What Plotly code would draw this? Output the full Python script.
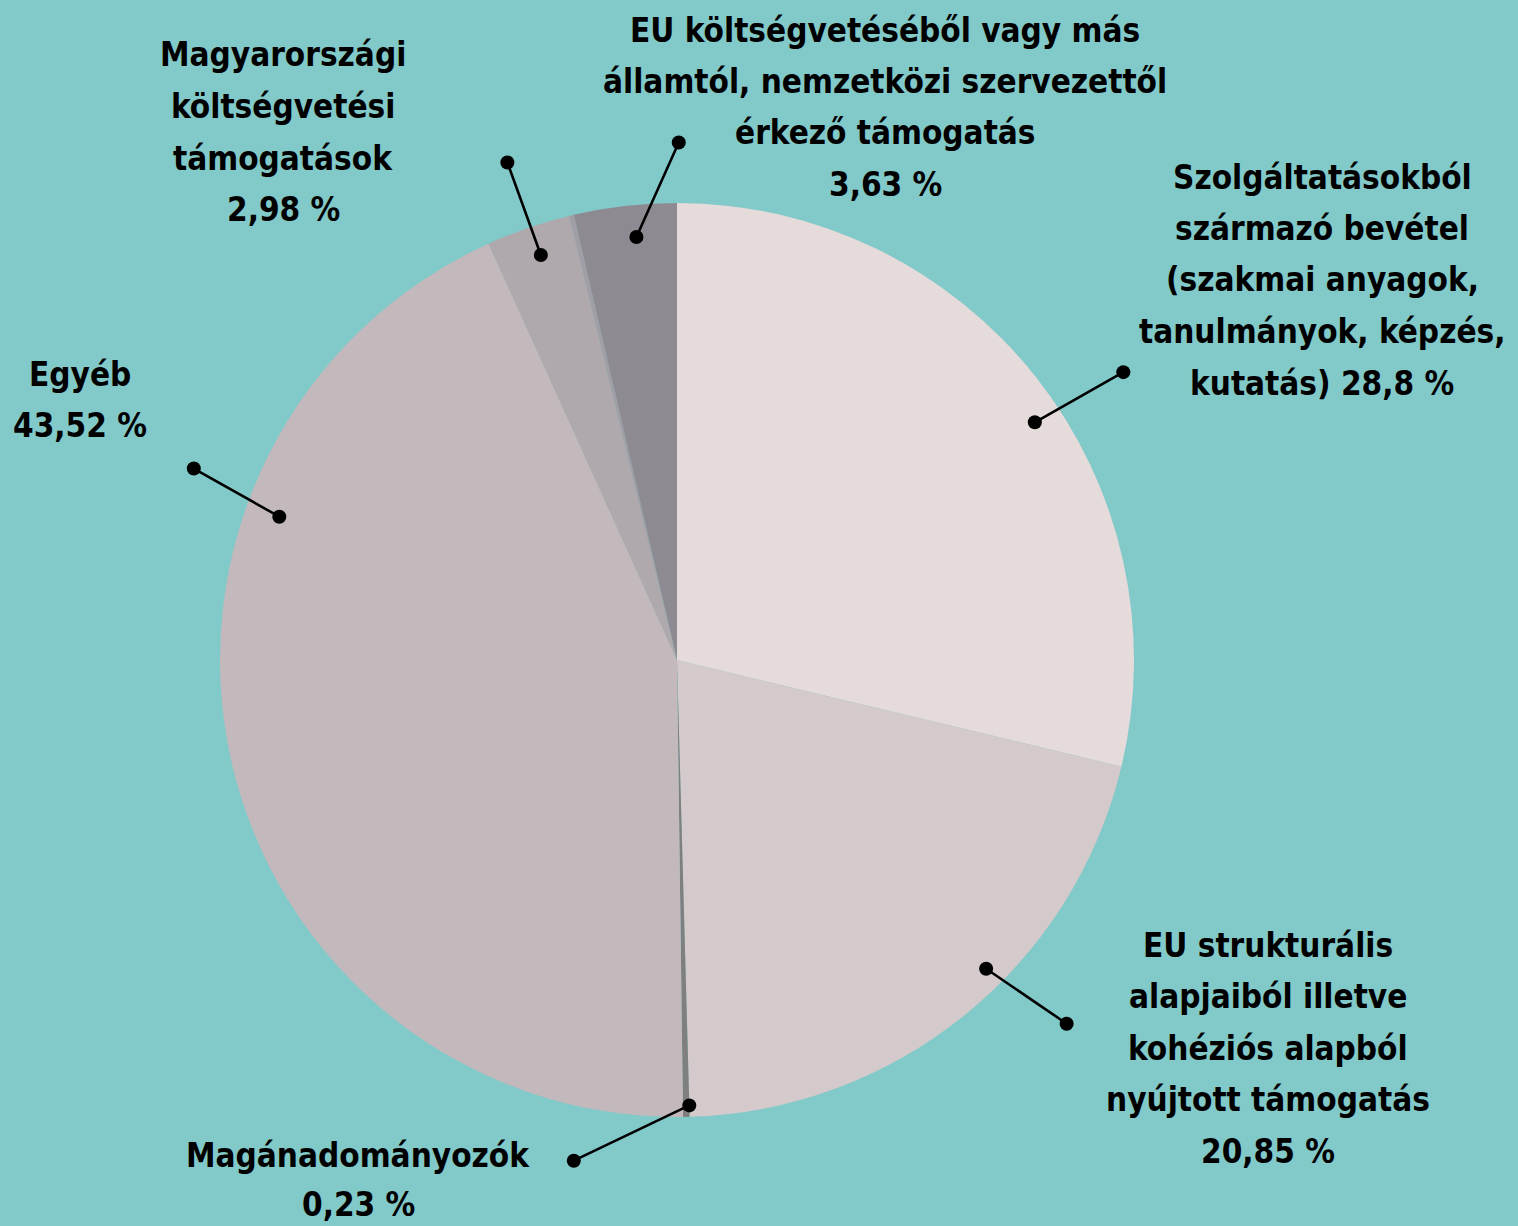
import math
import plotly.graph_objects as go

# ---------------- data ----------------
categories = [
    "Szolgáltatásokból származó bevétel (szakmai anyagok, tanulmányok, képzés, kutatás)",
    "EU strukturális alapjaiból illetve kohéziós alapból nyújtott támogatás",
    "Magánadományozók",
    "Egyéb",
    "Magyarországi költségvetési támogatások",
    "Egyéb (címke nélkül)",
    "EU költségvetéséből vagy más államtól, nemzetközi szervezettől érkező támogatás",
]
values = [28.8, 20.85, 0.23, 43.52, 2.98, 0.17, 3.63]
value_text = ["28,8 %", "20,85 %", "0,23 %", "43,52 %", "2,98 %", None, "3,63 %"]
label_lines = [
    ["Szolgáltatásokból", "származó bevétel", "(szakmai anyagok,", "tanulmányok, képzés,", "kutatás) {v}"],
    ["EU strukturális", "alapjaiból illetve", "kohéziós alapból", "nyújtott támogatás", "{v}"],
    ["Magánadományozók", "{v}"],
    ["Egyéb", "{v}"],
    ["Magyarországi", "költségvetési", "támogatások", "{v}"],
    None,
    ["EU költségvetéséből vagy más", "államtól, nemzetközi szervezettől", "érkező támogatás", "{v}"],
]
colors = ["#E4DBDA", "#D5CACB", "#7F7F7F", "#C3B8BB", "#AFA8AC", "#A29EA5", "#8E8A91"]

# ---------------- layout parameters ----------------
W, H = 1518, 1226
CX, CY, R = 677, 660, 457           # pie centre / radius in pixels
BG = "#82C9C9"
FONT = "DejaVu Sans Condensed, DejaVu Sans, sans-serif"
FS = 33
LINE_STEP = [51.5, 51.5, 49, 51.5, 51.5, None, 51.5]
# label block: first line centre (px)
label_pos = [(1322, 177), (1268, 945), (358, 1155), (80, 374), (283, 55), None, (885, 30)]
# leader anchor: fraction along slice angle span, radius fraction, tail offset (px)
leader = [
    (0.545, 0.94, (90, -51)),
    (0.42, 0.956, (82, 56)),
    (0.0, 0.975, (-117, 56)),
    (0.707, 0.925, (-87, -49)),
    (0.54, 0.935, (-34, -94)),
    None,
    (0.58, 0.93, (43, -96)),
]

fig = go.Figure()
fig.add_trace(go.Pie(
    labels=categories,
    values=values,
    sort=False,
    direction="clockwise",
    rotation=0,
    textinfo="none",
    hoverinfo="label+percent",
    marker=dict(colors=colors, line=dict(width=0)),
    showlegend=False,
    domain=dict(x=[(CX - R) / W, (CX + R) / W], y=[1 - (CY + R) / H, 1 - (CY - R) / H]),
))

annotations = []
total = sum(values)
cum = 0.0
for i, v in enumerate(values):
    start = cum / total * 360
    cum += v
    end = cum / total * 360
    if leader[i] is not None:
        frac, rfrac, (dx, dy) = leader[i]
        ang = math.radians(start + frac * (end - start))
        px = CX + R * rfrac * math.sin(ang)
        py = CY - R * rfrac * math.cos(ang)
        annotations.append(dict(
            x=px / W, y=1 - py / H, xref="paper", yref="paper",
            ax=dx, ay=dy, text="", showarrow=True,
            arrowhead=6, startarrowhead=6, arrowside="end+start",
            arrowwidth=2.6, arrowsize=1.35, startarrowsize=1.35,
            arrowcolor="black", standoff=0, startstandoff=0,
        ))
    if label_lines[i] is not None:
        lx, ly = label_pos[i]
        for k, line in enumerate(label_lines[i]):
            annotations.append(dict(
                x=lx / W, y=1 - (ly + k * LINE_STEP[i]) / H, xref="paper", yref="paper",
                text=line.format(v=value_text[i]), showarrow=False,
                xanchor="center", yanchor="middle",
                font=dict(family=FONT, size=FS, color="black", weight="bold"),
            ))

fig.update_layout(
    width=W, height=H,
    margin=dict(l=0, r=0, t=0, b=0),
    paper_bgcolor=BG, plot_bgcolor=BG,
    annotations=annotations,
)
fig.write_html(
    "out.html",
    config={"displayModeBar": False},
    post_script="document.body.style.margin='0';document.body.style.background='%s';" % BG,
)
